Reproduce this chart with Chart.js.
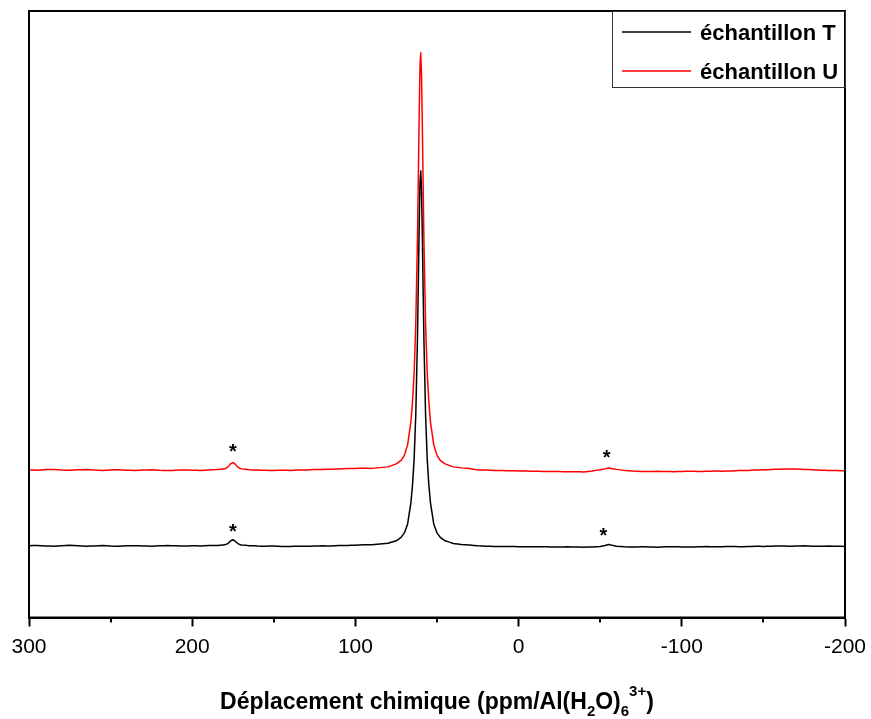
<!DOCTYPE html>
<html>
<head>
<meta charset="utf-8">
<script src="https://cdn.jsdelivr.net/npm/chart.js@4/dist/chart.umd.min.js"></script>
<style>
  html, body { margin: 0; padding: 0; background: #fff; }
  canvas { display: block; }
</style>
</head>
<body>
<canvas id="nmr" width="871" height="719"></canvas>
<script>
// chemical shift (ppm), shared by both spectra
const shifts = [
  300, 295, 290, 285, 280, 275, 270, 265, 260, 255, 250, 245, 240, 235, 230, 225, 220, 215, 210, 205,
  200, 195, 190, 185, 180, 178, 176.5, 175, 173.5, 172, 170,
  165, 160, 155, 150, 145, 140, 135, 130, 125, 120, 115, 110, 105, 100, 95,
  90, 80, 75, 72, 70, 68, 66, 65, 64, 63, 62, 61.5, 61, 60.5, 60,
  59.5, 59, 58.5, 58, 57, 56, 55, 54, 52, 50, 48, 45, 40, 35, 30,
  25, 20, 15, 10, 5, 0, -5, -10, -15, -20, -25, -30, -35, -40, -45, -50,
  -53, -55, -57, -60,
  -65, -70, -75, -80, -85, -90, -95, -100, -105, -110, -115, -120, -125, -130,
  -135, -140, -145, -150, -155, -160, -165, -170, -175, -180, -185, -190, -195, -200
];

// échantillon T (intensity, arbitrary units, stacked)
const sampleT = [
  71.8, 72.0, 71.5, 71.2, 71.6, 72.1, 71.7, 71.3, 71.5, 71.9, 71.4, 71.2, 71.6, 71.8, 71.5, 71.3, 71.7, 71.9, 71.6, 71.4,
  71.7, 71.5, 71.9, 72.0, 72.6, 74.0, 76.5, 77.8, 76.0, 73.8, 72.4,
  71.8, 71.4, 71.2, 71.5, 71.0, 70.9, 71.3, 71.1, 71.4, 71.6, 71.5, 71.9, 72.0, 72.3, 72.6,
  72.8, 74.2, 76.6, 80.0, 84.5, 93.5, 114.5, 132.5, 158.5, 202.5, 276.5, 327.5, 382.5, 428.5, 446.5,
  428.5, 382.5, 327.5, 276.5, 202.5, 158.5, 132.5, 114.5, 93.5, 84.5, 80.0, 76.6, 74.0, 73.0, 72.5,
  71.6, 71.3, 71.0, 70.9, 71.0, 70.8, 70.7, 70.6, 70.8, 70.5, 70.4, 70.6, 70.5, 70.3, 70.5, 71.0,
  72.0, 73.0, 72.3, 71.3,
  70.6, 70.4, 70.7, 70.5, 70.3, 70.6, 70.8, 70.5, 70.4, 70.7, 70.9, 70.6, 70.8, 71.0,
  70.7, 70.9, 71.2, 71.0, 71.3, 71.5, 71.2, 71.4, 71.6, 71.3, 71.1, 71.4, 71.2, 71.0
];

// échantillon U
const sampleU = [
  147.5, 147.2, 147.8, 148.0, 147.4, 147.1, 147.6, 147.9, 147.3, 147.0, 147.4, 147.7, 147.2, 146.9, 147.3, 147.6, 147.1, 146.8, 147.2, 147.5,
  147.2, 147.0, 147.4, 147.8, 148.6, 150.5, 153.5, 154.8, 153.0, 150.2, 148.5,
  147.6, 147.3, 147.1, 146.9, 147.2, 147.0, 147.3, 147.5, 147.8, 148.0, 148.2, 148.5, 148.8, 149.0, 149.2,
  149.0, 150.5, 153.5, 157.0, 162.0, 172.5, 195.5, 215.5, 244.5, 293.5, 375.5, 432.5, 492.5, 543.5, 564.5,
  543.5, 492.5, 432.5, 375.5, 293.5, 244.5, 215.5, 195.5, 172.5, 162.0, 157.0, 153.5, 150.5, 149.5, 148.8,
  147.5, 147.3, 147.0, 146.8, 146.6, 146.5, 146.3, 146.2, 146.0, 146.0, 145.8, 145.7, 145.6, 145.5, 146.4, 147.6,
  148.5, 149.3, 148.8, 148.0,
  147.0, 146.3, 146.0, 145.8, 146.1, 145.9, 145.7, 146.0, 146.2, 145.9, 146.1, 146.4, 146.2, 146.5,
  146.8, 147.0, 147.3, 147.6, 147.9, 148.2, 148.4, 148.3, 148.0, 147.6, 147.2, 147.0, 146.8, 146.7
];

const legendLabels = ['échantillon T', 'échantillon U'];
const seriesColors = ['#000000', '#ff0000'];

const majorTicks = [300, 200, 100, 0, -100, -200];
const minorTicks = [250, 150, 50, -50, -150];

// spinning sidebands marked with *
const starShifts = [175, 175, -54, -52];
const starLevels = [170, 90, 164, 86];

const FONT = '"Liberation Sans", Arial, Helvetica, sans-serif';

const decorPlugin = {
    id: 'decor',
    afterDraw(chart) {
        const ctx = chart.ctx;
        const area = chart.chartArea;
        const xs = chart.scales.x;
        const ys = chart.scales.y;
        ctx.save();

        // frame
        ctx.strokeStyle = '#000';
        ctx.lineWidth = 2;
        ctx.strokeRect(area.left, area.top, area.right - area.left, area.bottom - area.top);

        // minor ticks
        ctx.lineWidth = 2;
        minorTicks.forEach(v => {
            const px = Math.round(xs.getPixelForValue(v));
            ctx.beginPath();
            ctx.moveTo(px, area.bottom);
            ctx.lineTo(px, area.bottom + 5);
            ctx.stroke();
        });

        // asterisks
        ctx.fillStyle = '#000';
        ctx.font = 'bold 20px ' + FONT;
        ctx.textAlign = 'center';
        ctx.textBaseline = 'alphabetic';
        starShifts.forEach((s, i) => {
            const px = xs.getPixelForValue(s);
            const py = ys.getPixelForValue(starLevels[i]);
            ctx.fillText('*', px, py + 11);
        });

        // legend box
        const bx = 612, by = area.top, bw = area.right - 612, bh = 76;
        ctx.lineWidth = 1;
        ctx.strokeStyle = '#333';
        ctx.strokeRect(bx + 0.5, by + 0.5, bw, bh);
        ctx.font = 'bold 22px ' + FONT;
        ctx.textAlign = 'left';
        ctx.textBaseline = 'middle';
        legendLabels.forEach((lbl, i) => {
            const ly = by + 21 + i * 39;
            ctx.strokeStyle = seriesColors[i];
            ctx.lineWidth = 1.5;
            ctx.beginPath();
            ctx.moveTo(bx + 10, ly);
            ctx.lineTo(bx + 79, ly);
            ctx.stroke();
            ctx.fillStyle = '#000';
            ctx.fillText(lbl, bx + 88, ly + 2);
        });

        // axis title with sub/superscripts
        const parts = [
            { t: 'Déplacement chimique (ppm/Al(H', s: 0 },
            { t: '2', s: 1 },
            { t: 'O)', s: 0 },
            { t: '6', s: 1 },
            { t: '3+', s: -1 },
            { t: ')', s: 0 }
        ];
        const bigFont = 'bold 23px ' + FONT;
        const smallFont = 'bold 15px ' + FONT;
        let total = 0;
        parts.forEach(p => {
            ctx.font = p.s === 0 ? bigFont : smallFont;
            p.w = ctx.measureText(p.t).width;
            total += p.w;
        });
        let cx = (area.left + area.right) / 2 - total / 2;
        const base = 709;
        ctx.textBaseline = 'alphabetic';
        parts.forEach(p => {
            ctx.font = p.s === 0 ? bigFont : smallFont;
            const dy = p.s === 1 ? 7 : (p.s === -1 ? -13 : 0);
            ctx.fillText(p.t, cx, base + dy);
            cx += p.w;
        });

        ctx.restore();
    }
};

new Chart(document.getElementById('nmr'), {
    type: 'line',
    data: {
        datasets: [
            {
                label: legendLabels[0],
                data: shifts.map((x, i) => ({ x: x, y: sampleT[i] })),
                borderColor: seriesColors[0],
                borderWidth: 1.5,
                borderJoinStyle: 'round',
                pointRadius: 0,
                tension: 0.001
            },
            {
                label: legendLabels[1],
                data: shifts.map((x, i) => ({ x: x, y: sampleU[i] })),
                borderColor: seriesColors[1],
                borderWidth: 1.5,
                borderJoinStyle: 'round',
                pointRadius: 0,
                tension: 0.001
            }
        ]
    },
    options: {
        responsive: false,
        animation: false,
        devicePixelRatio: 1,
        layout: { padding: { left: 29, right: 26, top: 11, bottom: 0 } },
        plugins: { legend: { display: false }, tooltip: { enabled: false } },
        scales: {
            x: {
                type: 'linear',
                reverse: true,
                min: -200,
                max: 300,
                afterFit(scale) {
                    scale.height = 101.5;
                    scale.paddingLeft = 0;
                    scale.paddingRight = 0;
                },
                afterBuildTicks(scale) { scale.ticks = majorTicks.map(v => ({ value: v })); },
                grid: {
                    drawOnChartArea: false,
                    drawTicks: true,
                    tickLength: 9,
                    tickWidth: 2,
                    tickColor: '#000'
                },
                border: { display: true, color: '#000', width: 2 },
                ticks: {
                    color: '#000',
                    padding: 8,
                    maxRotation: 0,
                    font: { family: FONT, size: 21 }
                }
            },
            y: {
                display: false,
                min: 0,
                max: 606
            }
        }
    },
    plugins: [decorPlugin]
});
</script>
</body>
</html>
